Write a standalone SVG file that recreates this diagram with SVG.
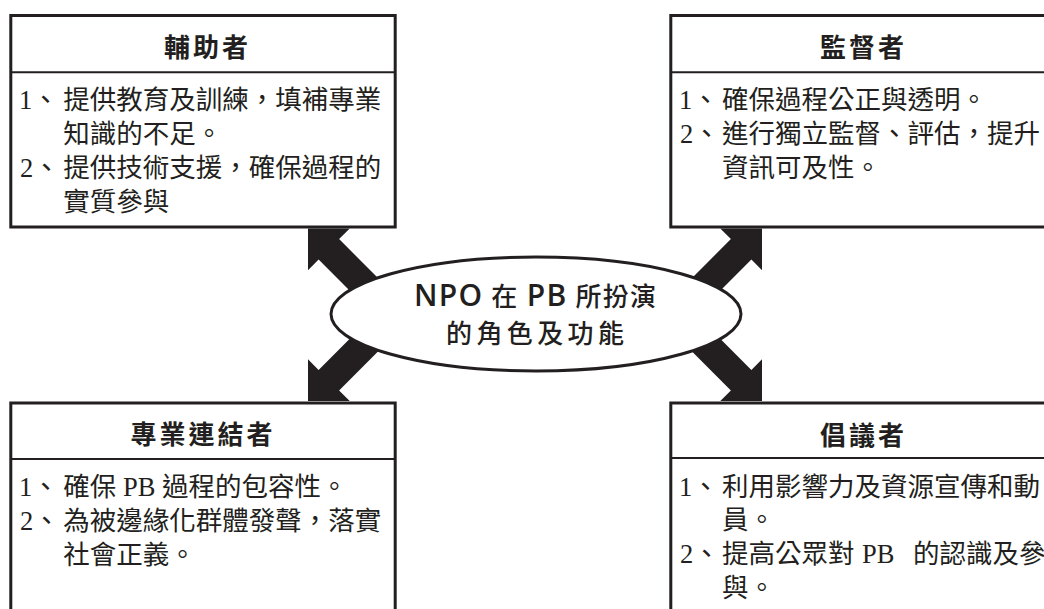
<svg xmlns="http://www.w3.org/2000/svg" width="1044" height="609" viewBox="0 0 1044 609">
<defs>
<style>
.box{fill:#fff;stroke:#231f20;stroke-width:3}
.div{stroke:#231f20;stroke-width:2}
.arrow{fill:#231f20}
.head{font-family:"Noto Sans CJK TC","Noto Sans",sans-serif;font-weight:700;font-size:26px;letter-spacing:3px;fill:#231f20;text-anchor:middle}
.body{font-family:"Liberation Serif","Noto Sans CJK TC",serif;font-size:26.5px;fill:#231f20}
.oval{font-family:"Open Sans","Noto Sans CJK TC",sans-serif;font-weight:500;font-size:26px;fill:#231f20;text-anchor:middle}
.lat{font-size:30px;font-weight:600}
</style>
<path id="arr" d="M0,0 L29.5,-29.5 V-14.5 H100 V14.5 H29.5 V29.5 Z"/>
</defs>
<rect width="1044" height="609" fill="#fff"/>
<g id="connectors" class="arrow">
<use href="#arr" transform="translate(308,228.5) rotate(45)"/>
<use href="#arr" transform="translate(762,228.5) rotate(135)"/>
<use href="#arr" transform="translate(308,401) rotate(-45)"/>
<use href="#arr" transform="translate(762,401) rotate(-135)"/>
</g>
<g id="node-facilitator">
<rect class="box" x="10.8" y="15.5" width="384.4" height="211.5"/>
<line class="div" x1="10.8" y1="72.3" x2="395.2" y2="72.3"/>
<text class="head" x="207.5" y="57">輔助者</text>
<text class="body" y="109"><tspan x="19">1、</tspan><tspan x="63.3">提供教育及訓練，填補專業</tspan></text>
<text class="body" x="63.3" y="143">知識的不足。</text>
<text class="body" y="177"><tspan x="20">2、</tspan><tspan x="63.3">提供技術支援，確保過程的</tspan></text>
<text class="body" x="63.3" y="211">實質參與</text>
</g>
<g id="node-supervisor">
<rect class="box" x="670.8" y="15.5" width="384" height="211.5"/>
<line class="div" x1="670.8" y1="72.3" x2="1054.8" y2="72.3"/>
<text class="head" x="863.5" y="57">監督者</text>
<text class="body" y="109"><tspan x="679">1、</tspan><tspan x="722">確保過程公正與透明。</tspan></text>
<text class="body" y="143"><tspan x="680">2、</tspan><tspan x="722">進行獨立監督、評估，提升</tspan></text>
<text class="body" x="722" y="177">資訊可及性。</text>
</g>
<g id="node-connector">
<rect class="box" x="10.8" y="403" width="384.4" height="260"/>
<line class="div" x1="10.8" y1="459" x2="395.2" y2="459"/>
<text class="head" x="203" y="444">專業連結者</text>
<text class="body" y="496"><tspan x="19">1、</tspan><tspan x="63.3">確保 PB 過程的包容性。</tspan></text>
<text class="body" y="530"><tspan x="20">2、</tspan><tspan x="63.3">為被邊緣化群體發聲，落實</tspan></text>
<text class="body" x="63.3" y="564">社會正義。</text>
</g>
<g id="node-advocate">
<rect class="box" x="670.8" y="403" width="384" height="260"/>
<line class="div" x1="670.8" y1="458" x2="1054.8" y2="458"/>
<text class="head" x="863.5" y="445">倡議者</text>
<text class="body" y="495.5"><tspan x="679">1、</tspan><tspan x="722">利用影響力及資源宣傳和動</tspan></text>
<text class="body" x="722" y="529">員。</text>
<text class="body" y="563"><tspan x="680">2、</tspan><tspan x="722">提高公眾對</tspan><tspan x="862">PB</tspan><tspan x="913">的認識及參</tspan></text>
<text class="body" x="722" y="597">與。</text>
</g>
<g id="node-center">
<ellipse cx="536" cy="314" rx="205" ry="57" fill="#fff" stroke="#231f20" stroke-width="3"/>
<text class="oval" x="535" y="306" textLength="242" lengthAdjust="spacing"><tspan class="lat">NPO</tspan> 在 <tspan class="lat">PB</tspan> 所扮演</text>
<text class="oval" x="535" y="343" textLength="178" lengthAdjust="spacing">的角色及功能</text>
</g>
</svg>
